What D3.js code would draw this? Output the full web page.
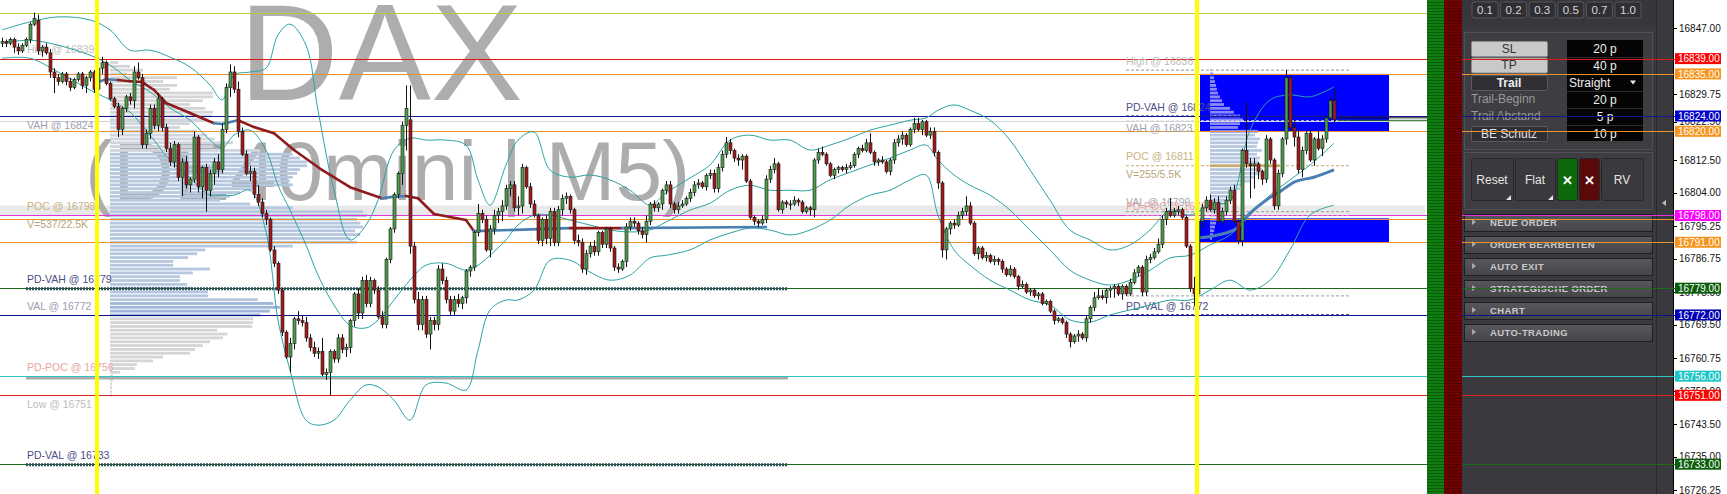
<!DOCTYPE html>
<html><head><meta charset="utf-8">
<script src="https://cdn.jsdelivr.net/npm/d3@7"></script>
<style>html,body{margin:0;padding:0;background:#fff;overflow:hidden}</style>
</head><body><svg id="c" width="1727" height="494"></svg>
<script>
// ---------------- DATA ----------------
const ohlc = [
[16843,16844.5,16842,16843.5],[16843.5,16844,16842,16843],[16843,16844.5,16842.5,16844],[16844,16844.5,16840.5,16842],[16842,16843,16840,16841],
[16841,16843,16840.5,16842.5],[16842.5,16844.5,16842,16844],[16844,16848.5,16843,16848],[16848,16851,16847.5,16849.5],[16849,16850.5,16840,16841],
[16841,16842.5,16839.5,16842],[16842,16843,16840,16840.5],[16840.5,16841.5,16834,16835.5],[16835.5,16836.5,16830,16834],[16834,16835,16832,16833],
[16833,16835.5,16832.5,16835],[16835,16835.5,16832,16833],[16833,16834,16830.5,16831.5],[16831.5,16834,16831,16833.5],[16833.5,16835.5,16833,16835],
[16835,16835.5,16831,16832],[16832,16834.5,16830,16834],[16834,16836,16833,16835.5],[16835.5,16836,16830,16831],[16831,16838,16822.5,16836.5],
[16836.5,16839.5,16835,16838],[16838,16838.5,16832,16832.5],[16832.5,16833,16828,16828.5],[16828.5,16829,16826,16826.5],[16826.5,16827.5,16818.5,16820.5],
[16820.5,16826.5,16819,16826],[16826,16829.5,16825,16829],[16829,16830,16827,16828],[16828,16837,16826,16835.5],[16835.5,16838,16833.5,16834],
[16834,16835,16815.5,16816.5],[16816.5,16820.5,16815.5,16819.5],[16819.5,16827,16818,16826],[16826,16827,16820.5,16821.5],[16821.5,16830,16820,16828.5],
[16828.5,16829,16820,16821],[16821,16822,16814.5,16815.5],[16815.5,16817,16811,16812],[16812,16817.5,16810.5,16816.5],[16816.5,16817,16807,16808],
[16808,16813,16803,16812],[16812,16813.5,16805,16806],[16806,16808,16804,16807.5],[16807.5,16820,16806.5,16818.5],[16818.5,16819,16804,16805.5],
[16805.5,16811,16802.5,16810.5],[16810.5,16811.5,16799,16804.5],[16804.5,16810,16803,16809],[16809,16813,16806,16812],[16812,16814,16808,16810],
[16810,16822,16809,16820.5],[16820.5,16832.5,16819.5,16831.5],[16831.5,16837.5,16829,16835.5],[16835.5,16837,16830,16831],[16831,16833,16818.5,16820],
[16820,16821,16813.5,16814],[16814,16815,16808.5,16809],[16809,16811,16807,16809.5],[16809.5,16810.5,16802.5,16803.5],[16803.5,16806,16800.5,16801.5],
[16801.5,16802.5,16797.5,16798.5],[16798.5,16799.5,16795.5,16797],[16797,16797.5,16788.5,16789],[16789,16790,16784.5,16785.5],[16785.5,16786,16777.5,16778.5],
[16778.5,16779,16766.5,16767.5],[16767.5,16768,16760.5,16761],[16761,16766,16757,16764.5],[16764.5,16771.5,16763,16771],[16771,16773,16769.5,16770.5],
[16770.5,16772,16769,16770],[16770,16771.5,16765,16766],[16766,16767,16762.5,16763.5],[16763.5,16765,16761,16762],[16762,16763.5,16760.5,16762.5],
[16762.5,16766,16756,16756.5],[16756.5,16758,16755,16757],[16757,16763,16751,16762.5],[16762.5,16763,16759.5,16760.5],[16760.5,16767,16759.5,16766],
[16766,16767,16762,16763],[16763,16764.5,16761,16763.5],[16763.5,16771,16762,16770.5],[16770.5,16778,16769,16777.5],[16777.5,16779,16771,16772.5],
[16772.5,16782,16771,16781],[16781,16782.5,16774,16775],[16775,16782,16774,16781],[16781,16781.5,16777.5,16778.5],[16778.5,16779.5,16771,16771.5],
[16771.5,16773,16768.5,16769.5],[16769.5,16787,16768.5,16786.5],[16786.5,16795,16785.5,16794.5],[16794.5,16804,16793.5,16803.5],[16803.5,16809.5,16802.5,16809],
[16809,16822.5,16806,16821.5],[16821.5,16832,16815,16826],[16823,16832,16788,16790],[16790,16791,16775,16776],[16776,16778,16768,16769.5],
[16769.5,16777,16768,16776],[16776,16777,16766,16767],[16767,16771.5,16763,16770.5],[16770.5,16771.5,16768,16769.5],[16769.5,16785,16768,16784],
[16784,16785.5,16780,16781],[16781,16782,16775,16776],[16776,16777,16772,16773],[16773,16777,16772,16776],[16776,16777.5,16774,16775],
[16775,16777,16773.5,16776.5],[16776.5,16784,16775,16783.5],[16783.5,16785,16782,16784.5],[16784.5,16794,16783.5,16793.5],[16793.5,16801,16792.5,16798.5],
[16798.5,16799.5,16796,16797],[16797,16798,16788.5,16789],[16789,16795.5,16787,16794.5],[16794.5,16799.5,16793,16798],[16798,16800,16796,16799],
[16799,16802,16796.5,16800.5],[16800.5,16806,16799.5,16805],[16805,16807,16803,16806],[16806,16807,16799,16800],[16800,16803,16798,16800.5],
[16800.5,16811.5,16798.5,16810.5],[16810.5,16811,16805,16805.5],[16805.5,16806.5,16800,16801],[16801,16802,16797.5,16798],[16798,16798.5,16790.5,16791.5],
[16791.5,16797.5,16790,16797],[16797,16798,16790.5,16792],[16792,16800,16790,16799],[16799,16800,16790,16791],[16791,16800.5,16790,16799.5],
[16799.5,16803.5,16798,16802.5],[16802.5,16804,16801,16803],[16803,16803.5,16798.5,16799.5],[16799.5,16800,16790.5,16791.5],[16791.5,16793,16790,16791],
[16791,16792,16783,16784],[16784,16789,16782.5,16788],[16788,16791,16787,16790],[16790,16791.5,16787.5,16788.5],[16788.5,16794,16787.5,16793.5],
[16793.5,16794,16789.5,16790.5],[16790.5,16795,16789.5,16794.5],[16794.5,16795,16788.5,16789.5],[16789.5,16790,16783.5,16784.5],[16784.5,16785.5,16783,16784],
[16784,16786.5,16783.5,16786],[16786,16796,16784.5,16795],[16795,16797.5,16794,16796.5],[16796.5,16797.5,16795,16796],[16796,16796.5,16793,16794],
[16794,16795,16792,16793],[16793,16798,16791,16796.5],[16796.5,16801.5,16795.5,16801],[16801,16802,16799,16800],[16800,16801.5,16799,16801],
[16801,16805,16799.5,16804.5],[16804.5,16807,16803.5,16806],[16806,16807,16800,16801],[16801,16801.5,16798.5,16799.5],[16799.5,16801.5,16798.5,16800.5],
[16800.5,16802,16800,16801],[16801,16803,16800.5,16802.5],[16802.5,16805,16801.5,16804],[16804,16807,16803,16806],[16806,16807.5,16805,16806.5],
[16806.5,16807,16805,16805.5],[16805.5,16809,16804.5,16808.5],[16808.5,16810,16807.5,16809],[16809,16810,16804,16805],[16805,16811.5,16804,16810.5],
[16810.5,16815,16809.5,16814],[16814,16818.5,16813,16817],[16817,16818,16814,16815],[16815,16815.5,16812,16813],[16813,16814,16811,16812.5],
[16812.5,16814,16810,16813.5],[16813.5,16814,16806.5,16807],[16807,16807.5,16797,16797.5],[16797.5,16798,16795.5,16796.5],[16796.5,16797,16795,16796],
[16796,16798,16795.5,16797],[16797,16808.5,16796,16807.5],[16807.5,16811,16806.5,16810],[16810,16813,16809,16811.5],[16811.5,16812,16799,16799.5],
[16799.5,16802,16798.5,16801.5],[16801.5,16802,16800,16801],[16801,16802,16799.5,16801],[16801,16803,16800.5,16802],[16802,16802.5,16800.5,16801.5],
[16801.5,16802,16798.5,16799],[16799,16800.5,16798.5,16800],[16800,16800.5,16798,16799.5],[16799.5,16813,16797.5,16812.5],[16812.5,16815.5,16811.5,16814.5],
[16814.5,16816,16813.5,16814],[16814,16814.5,16811,16811.5],[16811.5,16812,16808,16808.5],[16808.5,16810.5,16807.5,16810],[16810,16811,16809,16810.5],
[16810.5,16811,16809.5,16810],[16810,16811.5,16809,16810.5],[16810.5,16812,16810,16811],[16811,16814.5,16810.5,16814],[16814,16816,16813,16815.5],
[16815.5,16816.5,16814.5,16815],[16815,16818,16814.5,16817],[16817,16819.5,16814,16814.5],[16814.5,16815,16811,16812],[16812,16813,16811,16812.5],
[16812.5,16813.5,16811.5,16812],[16812,16812.5,16809,16809.5],[16809.5,16813,16808.5,16812.5],[16812.5,16818,16811.5,16817],[16817,16819,16816,16818],
[16818,16820,16816.5,16819],[16819,16819.5,16816,16816.5],[16816.5,16821,16816,16820.5],[16820.5,16823.5,16819.5,16822],[16822,16823.5,16820,16820.5],
[16820.5,16823,16819,16822.5],[16822.5,16823,16818.5,16819],[16819,16821,16818,16820],[16820,16821,16813.5,16814.5],[16814.5,16815,16805,16806.5],
[16806.5,16807,16787,16789],[16789,16795,16786.5,16794.5],[16794.5,16796.5,16793,16796],[16796,16797,16794.5,16795.5],[16795.5,16799,16795,16798],
[16798,16800,16797,16799],[16799,16803,16798,16800.5],[16800.5,16801.5,16795.5,16796],[16796,16796.5,16787.5,16788],[16788,16790,16786.5,16789.5],
[16789.5,16790,16786.5,16787],[16787,16788.5,16786,16787.5],[16787.5,16788,16785.5,16786],[16786,16787.5,16785,16786.5],[16786.5,16787,16785,16786],
[16786,16786.5,16783,16784],[16784,16784.5,16782,16782.5],[16782.5,16785,16782,16784],[16784,16784.5,16781.5,16782],[16782,16782.5,16778.5,16779.5],
[16779.5,16781,16779,16780],[16780,16780.5,16777.5,16778],[16778,16779,16777,16778.5],[16778.5,16779,16776.5,16777],[16777,16778,16776,16777.5],
[16777.5,16778,16774.5,16775],[16775,16776,16774.5,16775.5],[16775.5,16776,16772.5,16773],[16773,16773.5,16769.5,16770.5],[16770.5,16771.5,16770,16771],
[16771,16771.5,16769.5,16770],[16770,16770.5,16766,16767],[16767,16767.5,16763.5,16765],[16765,16767,16764.5,16766.5],[16766.5,16768,16765,16767],
[16767,16767.5,16765.5,16766],[16766,16772,16765,16771],[16771,16774.5,16770,16774],[16774,16778,16773,16776.5],[16776.5,16779,16776,16777],
[16777,16778.5,16776,16776.5],[16776.5,16779,16775,16778.5],[16778.5,16779.5,16776.5,16779],[16779,16780,16776.5,16779.5],[16779.5,16780,16777,16777.5],
[16777.5,16780,16776,16779.5],[16779.5,16780,16777,16777.5],[16777.5,16781.5,16777,16780.5],[16780.5,16784,16780,16783],[16783,16785,16782,16784.5],
[16784.5,16785,16777,16778],[16778,16787.5,16777,16786.5],[16786.5,16788,16785.5,16787],[16787,16789.5,16786.5,16788.5],[16788.5,16792,16788,16790.5],
[16790.5,16798,16789.5,16797],[16797,16800,16795.5,16799],[16799,16802.5,16797.5,16798],[16798,16800,16797.5,16799],[16799,16800.5,16798,16799.5],
[16799.5,16800,16797,16797.5],[16797.5,16798,16789.5,16790],[16790,16790.5,16778,16779],[16779,16782,16774.5,16777.5],[16777.5,16797.5,16776.5,16796.5],
[16796.5,16801,16795,16800],[16800,16803,16799,16802],[16802,16803.5,16799,16799.5],[16799.5,16802.5,16798.5,16801.5],[16801.5,16803,16796,16796.5],
[16796.5,16800,16795.5,16799],[16799,16803,16798,16802],[16802,16805.5,16801,16804.5],[16804.5,16806,16796,16796.5],[16796.5,16797,16790.5,16791.5],
[16791.5,16815.5,16790,16815],[16815,16827.5,16810.5,16811.5],[16811.5,16813,16802.5,16811],[16811,16813,16805,16811.5],[16811.5,16812,16807.5,16809.5],
[16809.5,16810,16806,16807.5],[16807.5,16819,16806.5,16818],[16818,16818.5,16811.5,16812.5],[16812.5,16813,16799.5,16800.5],[16800.5,16810,16799.5,16809],
[16809,16818.5,16808,16818],[16818,16836,16816.5,16834],[16834,16834.5,16820,16821],[16821,16823,16816,16818.5],[16818.5,16820.5,16809,16810],
[16810,16816,16808,16815],[16815,16820,16814,16819.5],[16819.5,16820.5,16812,16812.5],[16812.5,16818.5,16811,16818],[16818,16820,16815,16815.5],
[16815.5,16819,16813.5,16818],[16818,16824,16817,16823.5],[16823.5,16829,16823,16828],[16828,16831,16822,16823]
];

// Bollinger bands (read at candle indices)
const bbIdx = [0,7,14,22,27,32,37,42,47,52,55,58,62,66,69,72,76,79,83,87,91,94,98,102,106,111,116,119,122,126,129,133,137,142,147,152,157,162,166,172,177,182,187,192,197,202,207,212,217,222,227,231,234,238,242,247,252,257,262,267,272,277,282,287,292,297,302,307,312,317,322,327,333];
const bbUpper = [16846.5,16848.6,16849.9,16849.1,16846.5,16841.2,16841.2,16839.4,16836.8,16832.1,
16828.2,16834.7,16835.5,16836.5,16845.2,16848.0,16842.5,16825.5,16804.6,16791.6,
16795.5,16802.0,16815.1,16818.2,16817.7,16817.7,16816.4,16807.3,16800.7,16811.2,
16817.7,16819.8,16809.9,16808.0,16808.6,16807.3,16804.6,16800.7,16803.9,16807.8,
16811.2,16817.7,16819.0,16817.7,16817.7,16815.1,16816.4,16818.2,16820.3,16821.6,
16822.9,16823.5,16825.5,16826.9,16825.5,16822.9,16817.7,16809.9,16802.0,16794.2,
16791.6,16789.0,16790.3,16794.2,16799.4,16798.1,16800.7,16802.0,16820.3,16828.2,
16829.5,16829.0,16831.6];
const bbMiddle = [16843.1,16843.8,16842.5,16839.9,16837.3,16833.4,16830.3,16826.1,16822.9,16817.7,
16815.6,16819.0,16820.3,16815.1,16805.9,16799.4,16790.3,16782.4,16774.6,16769.3,
16768.6,16770.7,16775.9,16781.1,16785.0,16785.5,16783.7,16785.0,16787.6,16791.6,
16795.5,16798.1,16798.1,16796.8,16795.5,16794.2,16793.7,16794.2,16796.3,16799.4,
16801.2,16804.6,16805.9,16804.6,16804.6,16804.6,16807.3,16809.3,16811.2,16813.0,
16815.1,16816.4,16812.5,16808.6,16805.9,16803.3,16799.4,16794.2,16789.0,16783.7,
16781.1,16779.8,16781.1,16783.7,16786.9,16787.6,16790.3,16792.9,16798.1,16803.3,
16807.3,16811.2,16816.9];
const bbLower = [16839.1,16839.1,16835.5,16830.8,16828.2,16825.0,16819.0,16812.5,16807.8,16803.3,
16803.3,16803.3,16804.6,16793.7,16770.7,16757.6,16744.5,16743.2,16744.5,16749.7,
16753.7,16753.2,16749.7,16744.5,16753.7,16754.2,16752.4,16762.8,16773.3,16775.9,
16775.9,16778.5,16786.3,16786.3,16783.2,16781.1,16782.4,16786.9,16787.6,16789.0,
16791.6,16793.4,16794.7,16794.2,16792.9,16794.2,16796.8,16800.7,16803.3,16804.6,
16807.3,16808.6,16798.1,16789.0,16785.0,16781.1,16778.5,16775.9,16774.6,16770.7,
16770.1,16772.0,16773.3,16774.6,16775.9,16775.9,16778.5,16781.1,16778.5,16781.1,
16789.0,16798.1,16800.7];

// Thick moving average (left session) and its trend per segment
const maIdx = [24,26,29,32,35,38,41,47,53,55,59,63,68,73,80,87,95,97,101,104,108,112,116,118,142,155,191];
const maVal = [16832.9,16833.6,16833.4,16833.1,16832.9,16830.8,16827.4,16824.8,16822.1,16821.9,16822.9,16821.1,16819.5,16815.1,16809.9,16805.4,16802.5,16802.8,16803.1,16802.5,16798.4,16797.6,16796.8,16793.9,16794.7,16794.7,16795.0];
const maTrend = ["up","up","dn","dn","dn","dn","dn","dn","up","up","dn","dn","dn","dn","dn","dn","up","up","dn","dn","dn","dn","dn","up","dn","up"];

// VWAP (right session)
const vwIdx = [299,308,312,316,320,323,328,333];
const vwVal = [16792.1,16794.2,16798.6,16802.0,16804.6,16806.7,16808.0,16809.9];

// Volume profile, previous session (1 point per row)
const profLeftTop = 16838;
const profLeftVol = [17,42,69,36,140,111,140,125,215,215,194,167,199,215,213,203,167,146,182,203,
219,257,215,314,382,397,412,412,397,391,382,376,382,299,272,251,230,293,382,529,
537,516,523,529,512,523,502,516,382,199,182,163,132,132,209,173,146,146,161,173,
205,205,309,341,355,334,314,299,299,297,224,245,236,209,194,178,167,111,90,56,
52,21,6,6,4,4,4,4];
// Volume profile, current session
const profRightTop = 16836;
const profRightVol = [7,11,15,18,22,25,29,36,44,51,73,87,109,120,109,102,175,164,182,175,
171,189,171,182,175,255,189,182,164,146,124,109,95,80,73,58,51,44,36,29,22,18,15,11,7];

// Key levels
const levels = [16851,16839,16835,16824,16822.7,16820,16798,16797.2,16791,16779,16772,16756,16751,16733];
const axisLabels = [16839,16835,16824,16820,16798,16791,16779,16772,16756,16751,16733];
const tickVals = [16847,16829.75,16822.5,16812.5,16804,16795.25,16786.75,16778,16769.5,16760.75,16752,16743.5,16735,16726.25];

const leftText = ["High @ 16839","VAH @ 16824","POC @ 16798","V=537/22.5K","PD-VAH @ 16779","VAL @ 16772","PD-POC @ 16756","Low @ 16751","PD-VAL @ 16733"];
const leftTextPrice = [16839,16824,16798,16798,16779,16772,16756,16751,16733];
const rightText = ["High @ 16836","PD-VAH @ 16824","VAH @ 16823","POC @ 16811","V=255/5.5K","VAL @ 16799","PD-POC @ 16798","PD-VAL @ 16772"];
const rightTextPrice = [16836,16824,16823,16811,16811,16799,16798,16772];
const rightDashPrice = [16836,16824,16823,16811,16799,16798,16777,16772];
const zoneRects = [[16835,16820],[16797.25,16791]];
const greyZone = [16800.6,16798];

const stepButtons = ["0.1","0.2","0.3","0.5","0.7","1.0"];
const paramNames = ["SL","TP","Trail","Trail-Beginn","Trail Abstand","BE Schutz"];
const paramValues = ["20 p","40 p","Straight","20 p","5 p","10 p"];
const menuItems = ["NEUE ORDER","ORDER BEARBEITEN","AUTO EXIT","STRATEGISCHE ORDER","CHART","AUTO-TRADING"];

// ---------------- DRAW ----------------
const FONT = "'Liberation Sans', Arial, sans-serif";
const svg = d3.select("#c");
const y = d3.scaleLinear().domain([16847,16726.25]).range([28,490]);
const x = d3.scaleLinear().domain([0, ohlc.length-1]).range([2,1334]);
const CHART_R = 1427;

svg.append("rect").attr("width",1727).attr("height",494).attr("fill","#fff");

const defs = svg.append("defs");
const pg = defs.append("pattern").attr("id","gs").attr("width",4).attr("height",3).attr("patternUnits","userSpaceOnUse");
pg.append("rect").attr("width",4).attr("height",3).attr("fill","#0f7d10");
pg.append("rect").attr("y",2).attr("width",4).attr("height",1).attr("fill","#0a5c0b");
const pr = defs.append("pattern").attr("id","rs").attr("width",4).attr("height",3).attr("patternUnits","userSpaceOnUse");
pr.append("rect").attr("width",4).attr("height",3).attr("fill","#6e0202");
pr.append("rect").attr("y",2).attr("width",4).attr("height",1).attr("fill","#520000");
const mg = defs.append("linearGradient").attr("id","mg").attr("x1",0).attr("x2",0).attr("y1",0).attr("y2",1);
mg.append("stop").attr("offset",0).attr("stop-color","#58575c");
mg.append("stop").attr("offset",1).attr("stop-color","#454449");

// grey zone
svg.append("rect").attr("x",0).attr("width",1425).attr("y",y(greyZone[0])).attr("height",y(greyZone[1])-y(greyZone[0])).attr("fill","#e9e9e9");

// watermark
svg.append("text").attr("x",239).attr("y",100).text("DAX")
  .attr("font-family",FONT).attr("font-size",138).attr("fill","#adadad");
svg.append("text").attr("x",85).attr("y",200).text("(DE40mini | M5)")
  .attr("font-family",FONT).attr("font-size",84).attr("fill","#adadad");

// left profile
const vxL = d3.scaleLinear().domain([0,537]).range([0,257]);
profLeftVol.forEach((v,k)=>{
  const p = profLeftTop - k;
  let col = "#d5d5d5";
  if (p<=16824 && p>16814) col = "#cfd6df";
  else if (p<=16814 && p>=16776) col = "#b5c8e0";
  else if (p<16776 && p>=16772) col = "#9fb6da";
  svg.append("rect").attr("x",110).attr("y",y(p)-1.4).attr("width",vxL(v)).attr("height",2.8).attr("fill",col);
});

// zone rects (blue)
zoneRects.forEach(r=>{
  svg.append("rect").attr("x",1200).attr("width",189).attr("y",y(r[0])).attr("height",y(r[1])-y(r[0])).attr("fill","#0000ff");
});

// right profile
const vxR = d3.scaleLinear().domain([0,255]).range([0,70]);
profRightVol.forEach((v,k)=>{
  const p = profRightTop - k;
  const inZone = zoneRects.some(r=>p<=r[0] && p>=r[1]);
  let col = "#d3d3d3";
  if (p<=16823 && p>=16799) col = "#b5c8e0";
  if (p===16811) col = "#c8aa6c";
  if (inZone) col = "#8a8af7";
  svg.append("rect").attr("x",1210).attr("y",y(p)-1.4).attr("width",vxR(v)).attr("height",2.8).attr("fill",col);
});

// horizontal levels
const levelStyle = {16851:"#b6cc3c",16839:"#e01818",16835:"#f0922c",16824:"#14148c",16822.7:"#d4d4d4",16820:"#f0922c",
  16798:"#e030e0",16797.2:"#f0922c",16791:"#f0922c",16779:"#1d6a1d",16772:"#10108a",16756:"#2ec4c4",16751:"#dd1c1c",16733:"#1d6a1d"};
levels.forEach(p=>{
  svg.append("line").attr("x1",0).attr("x2",CHART_R).attr("y1",Math.round(y(p))+0.5).attr("y2",Math.round(y(p))+0.5)
    .attr("stroke",levelStyle[p]).attr("stroke-width",1.2);
});

// previous-day overlays (left session)
[16779,16733].forEach(p=>{
  svg.append("line").attr("x1",26).attr("x2",788).attr("y1",y(p)+0.5).attr("y2",y(p)+0.5)
    .attr("stroke","#2c4d5c").attr("stroke-width",3).attr("stroke-dasharray","2,1");
});
svg.append("line").attr("x1",26).attr("x2",788).attr("y1",y(16756)+2).attr("y2",y(16756)+2)
  .attr("stroke","#ababab").attr("stroke-width",2.5);

// right session dashed lines
const dashStyle = {16836:"#a9a9a9",16824:"#1a1a90",16823:"#dcdcdc",16811:"#c8aa6c",16799:"#a9a9a9",16798:"#e07ad0",16777:"#b0b0b0",16772:"#1a1a90"};
rightDashPrice.forEach(p=>{
  svg.append("line").attr("x1",1126).attr("x2",1351).attr("y1",y(p)+(p===16823?1:0)).attr("y2",y(p)+(p===16823?1:0))
    .attr("stroke",dashStyle[p]).attr("stroke-width",1.2).attr("stroke-dasharray","3,2");
});

// labels
const leftStyle = [["a","#bdbdbd"],["b","#9d9db2"],["a","#c9b27f"],["b","#b9a57c"],["a","#4d4d85"],["a","#9d9db2"],["a","#e6a5a5"],["b","#bdbdbd"],["a","#4d4d85"]];
leftText.forEach((t,k)=>{
  svg.append("text").attr("x",27).attr("y",y(leftTextPrice[k])+(leftStyle[k][0]==="a"?-9:9)).attr("dy","0.35em")
    .text(t).attr("font-family",FONT).attr("font-size",10.5).attr("fill",leftStyle[k][1]);
});
const rightStyle = [["a","#bdbdbd"],["a","#4d4d85"],["b","#a0a0ae"],["a","#c9b27f"],["b","#b9a57c"],["a","#a8a8b4"],["a","#eaa2a2"],["a","#4d4d85"]];
rightText.forEach((t,k)=>{
  svg.append("text").attr("x",1126).attr("y",y(rightTextPrice[k])+(rightStyle[k][0]==="a"?-9:8.5)).attr("dy","0.35em")
    .text(t).attr("font-family",FONT).attr("font-size",10.5).attr("fill",rightStyle[k][1]);
});

// bollinger bands
const bbLine = vals => d3.line().x((d,k)=>x(bbIdx[k])).y(d=>y(d)).curve(d3.curveCatmullRom.alpha(0.5))(vals);
[bbUpper,bbMiddle,bbLower].forEach(vals=>{
  svg.append("path").attr("d",bbLine(vals)).attr("fill","none").attr("stroke","#2ba3a3").attr("stroke-width",1);
});

// thick MA
for (let k=0;k<maIdx.length-1;k++){
  svg.append("line").attr("x1",x(maIdx[k])).attr("y1",y(maVal[k])).attr("x2",x(maIdx[k+1])).attr("y2",y(maVal[k+1]))
    .attr("stroke",maTrend[k]==="up"?"#4a7fb3":"#8e1c1c").attr("stroke-width",2.6).attr("stroke-linecap","round");
}
// VWAP
svg.append("path").attr("d",d3.line().x((d,k)=>x(vwIdx[k])).y(d=>y(d)).curve(d3.curveMonotoneX)(vwVal))
  .attr("fill","none").attr("stroke","#4a7fb3").attr("stroke-width",3);

// candles
const cg = svg.append("g");
ohlc.forEach((d,i)=>{
  const [o,h,l,c] = d; const cx = Math.round(x(i))+0.5;
  cg.append("line").attr("x1",cx).attr("x2",cx).attr("y1",y(Math.max(h,o,c))).attr("y2",y(Math.min(l,o,c))).attr("stroke","#111").attr("stroke-width",1);
  const top = y(Math.max(o,c)), bot = y(Math.min(o,c));
  cg.append("rect").attr("x",cx-1.5).attr("width",3).attr("y",top).attr("height",Math.max(1,bot-top))
    .attr("fill",c>=o?"#4f9b4c":"#a01a1a").attr("stroke","#1a1a1a").attr("stroke-width",0.6);
});
// current price line
svg.append("line").attr("x1",1338).attr("x2",CHART_R).attr("y1",y(16823)-2).attr("y2",y(16823)-2).attr("stroke","#111").attr("stroke-width",1);
svg.append("line").attr("x1",1338).attr("x2",CHART_R).attr("y1",y(16823)+0.5).attr("y2",y(16823)+0.5).attr("stroke","#1d6a1d").attr("stroke-width",1);

// session separators
[97,1197].forEach(xx=>svg.append("rect").attr("x",xx-2).attr("width",4).attr("y",0).attr("height",494).attr("fill","#ffff00"));

// strips
svg.append("rect").attr("x",1427).attr("width",17).attr("height",494).attr("fill","url(#gs)");
svg.append("rect").attr("x",1444).attr("width",18).attr("height",494).attr("fill","url(#rs)");

// panel
const P = svg.append("g");
P.append("rect").attr("x",1462).attr("width",211).attr("height",494).attr("fill","#3a393e");
P.append("rect").attr("x",1462).attr("width",194).attr("height",26).attr("fill","#37363b");
stepButtons.forEach((t,k)=>{
  const bx = 1472 + k*28.6;
  P.append("rect").attr("x",bx).attr("y",2).attr("width",26).attr("height",16).attr("rx",2).attr("fill","#2f2e33").attr("stroke","#56555b");
  P.append("text").attr("x",bx+13).attr("y",14).attr("text-anchor","middle").text(t).attr("font-family",FONT).attr("font-size",11.5).attr("fill","#d6d6d6");
});
P.append("rect").attr("x",1464.5).attr("y",32.5).attr("width",188).attr("height",117).attr("fill","#3e3d42").attr("stroke","#525157");
P.append("rect").attr("x",1464.5).attr("y",152.5).attr("width",188).attr("height",57).attr("fill","#3e3d42").attr("stroke","#525157");
const btn = (bx,by,w,h,fill,stroke,label,tcol,bold)=>{
  P.append("rect").attr("x",bx+0.5).attr("y",by+0.5).attr("width",w).attr("height",h).attr("rx",1.5).attr("fill",fill).attr("stroke",stroke);
  P.append("text").attr("x",bx+w/2).attr("y",by+h/2).attr("dy","0.36em").attr("text-anchor","middle").text(label)
    .attr("font-family",FONT).attr("font-size",12).attr("fill",tcol).attr("font-weight",bold?"bold":"normal");
};
btn(1471,41,76,15,"#c9c9c9","#8a8a8a",paramNames[0],"#333");
btn(1471,57.5,76,15,"#c9c9c9","#8a8a8a",paramNames[1],"#333");
btn(1471,75,76,15,"#302f34","#5a595f",paramNames[2],"#eeeeee",true);
P.append("text").attr("x",1471).attr("y",103).text(paramNames[3]).attr("font-family",FONT).attr("font-size",12).attr("fill","#9a9a9a");
P.append("text").attr("x",1471).attr("y",120).text(paramNames[4]).attr("font-family",FONT).attr("font-size",12).attr("fill","#9a9a9a");
btn(1471,126,76,15,"#302f34","#5a595f",paramNames[5],"#e4e4e4");
P.append("rect").attr("x",1567).attr("y",40).attr("width",76).attr("height",101).attr("fill","#050505");
[57,74,91,108,125].forEach(yy=>P.append("line").attr("x1",1567).attr("x2",1643).attr("y1",yy+0.5).attr("y2",yy+0.5).attr("stroke","#2e2e2e"));
paramValues.forEach((t,k)=>{
  const cy = 48.5 + k*17;
  if (t==="Straight"){
    P.append("text").attr("x",1569).attr("y",cy).attr("dy","0.36em").text(t).attr("font-family",FONT).attr("font-size",12).attr("fill","#eee");
    P.append("path").attr("d",`M1630,${cy-2} l6,0 l-3,4 z`).attr("fill","#eee");
  } else {
    P.append("text").attr("x",1605).attr("y",cy).attr("dy","0.36em").attr("text-anchor","middle").text(t).attr("font-family",FONT).attr("font-size",12).attr("fill","#eee");
  }
});
const abtn = (bx,w,fill,label,tcol,tri)=>{
  P.append("rect").attr("x",bx+0.5).attr("y",158.5).attr("width",w).attr("height",42).attr("rx",2).attr("fill",fill).attr("stroke","#27262a");
  P.append("text").attr("x",bx+w/2).attr("y",180).attr("dy","0.36em").attr("text-anchor","middle").text(label)
    .attr("font-family",FONT).attr("font-size",label==="✕"?13:12).attr("font-weight",label==="✕"?"bold":"normal").attr("fill",tcol);
  if (tri) P.append("path").attr("d",`M${bx+w-2},${195} l0,5 l-5,0 z`).attr("fill","#e6e6e6");
};
abtn(1471,42,"#3a393e","Reset","#e6e6e6",true);
abtn(1515,40,"#3a393e","Flat","#e6e6e6",true);
abtn(1557,20,"#0c6a0c","✕","#ffffff",false);
abtn(1579,20,"#5a0a0a","✕","#ffffff",false);
abtn(1601,42,"#3a393e","RV","#e6e6e6",false);
menuItems.forEach((t,k)=>{
  const my = 214 + k*22;
  P.append("rect").attr("x",1464.5).attr("y",my+0.5).attr("width",188).attr("height",17).attr("fill","url(#mg)").attr("stroke","#1f1e22");
  P.append("path").attr("d",`M1472,${my+5} l4,3 l-4,3 z`).attr("fill","#aaaaaa");
  P.append("text").attr("x",1490).attr("y",my+9).attr("dy","0.36em").text(t).attr("font-family",FONT).attr("font-size",9.5)
    .attr("font-weight","bold").attr("letter-spacing",0.4).attr("fill","#c9c9c9");
});
P.append("line").attr("x1",1656.5).attr("x2",1656.5).attr("y1",0).attr("y2",494).attr("stroke","#2a292d");
P.append("path").attr("d","M1662,203 l4,-3 l0,6 z").attr("fill","#bdbdbd");

// price axis
svg.append("rect").attr("x",1673).attr("width",54).attr("height",494).attr("fill","#fff");
svg.append("line").attr("x1",1673.5).attr("x2",1673.5).attr("y1",0).attr("y2",494).attr("stroke","#000");
tickVals.forEach(v=>{
  svg.append("line").attr("x1",1673).attr("x2",1677).attr("y1",Math.round(y(v))+0.5).attr("y2",Math.round(y(v))+0.5).attr("stroke","#000");
  svg.append("text").attr("x",1679).attr("y",y(v)).attr("dy","0.35em").text(d3.format(".2f")(v))
    .attr("font-family",FONT).attr("font-size",10).attr("fill","#111");
});

// level lines across panel + axis labels
axisLabels.forEach(p=>{
  svg.append("line").attr("x1",1462).attr("x2",1675).attr("y1",Math.round(y(p))+0.5).attr("y2",Math.round(y(p))+0.5)
    .attr("stroke",levelStyle[p]).attr("stroke-width",1.2);
});
svg.append("line").attr("x1",1462).attr("x2",1675).attr("y1",Math.round(y(16797.2))+0.5).attr("y2",Math.round(y(16797.2))+0.5)
  .attr("stroke","#f0922c").attr("stroke-width",1.2);
const boxFill = {16839:"#ff0000",16835:"#f7941d",16824:"#0000c8",16820:"#f7941d",16798:"#ff00ff",16791:"#f7941d",
  16779:"#0b5e0b",16772:"#0000b4",16756:"#1cc6c6",16751:"#ff0000",16733:"#0b5e0b"};
axisLabels.forEach(p=>{
  svg.append("rect").attr("x",1675).attr("y",y(p)-5.5).attr("width",46).attr("height",11).attr("fill",boxFill[p]);
  svg.append("text").attr("x",1678).attr("y",y(p)).attr("dy","0.36em").text(d3.format(".2f")(p))
    .attr("font-family",FONT).attr("font-size",10).attr("fill","#fff");
});
</script></body></html>
